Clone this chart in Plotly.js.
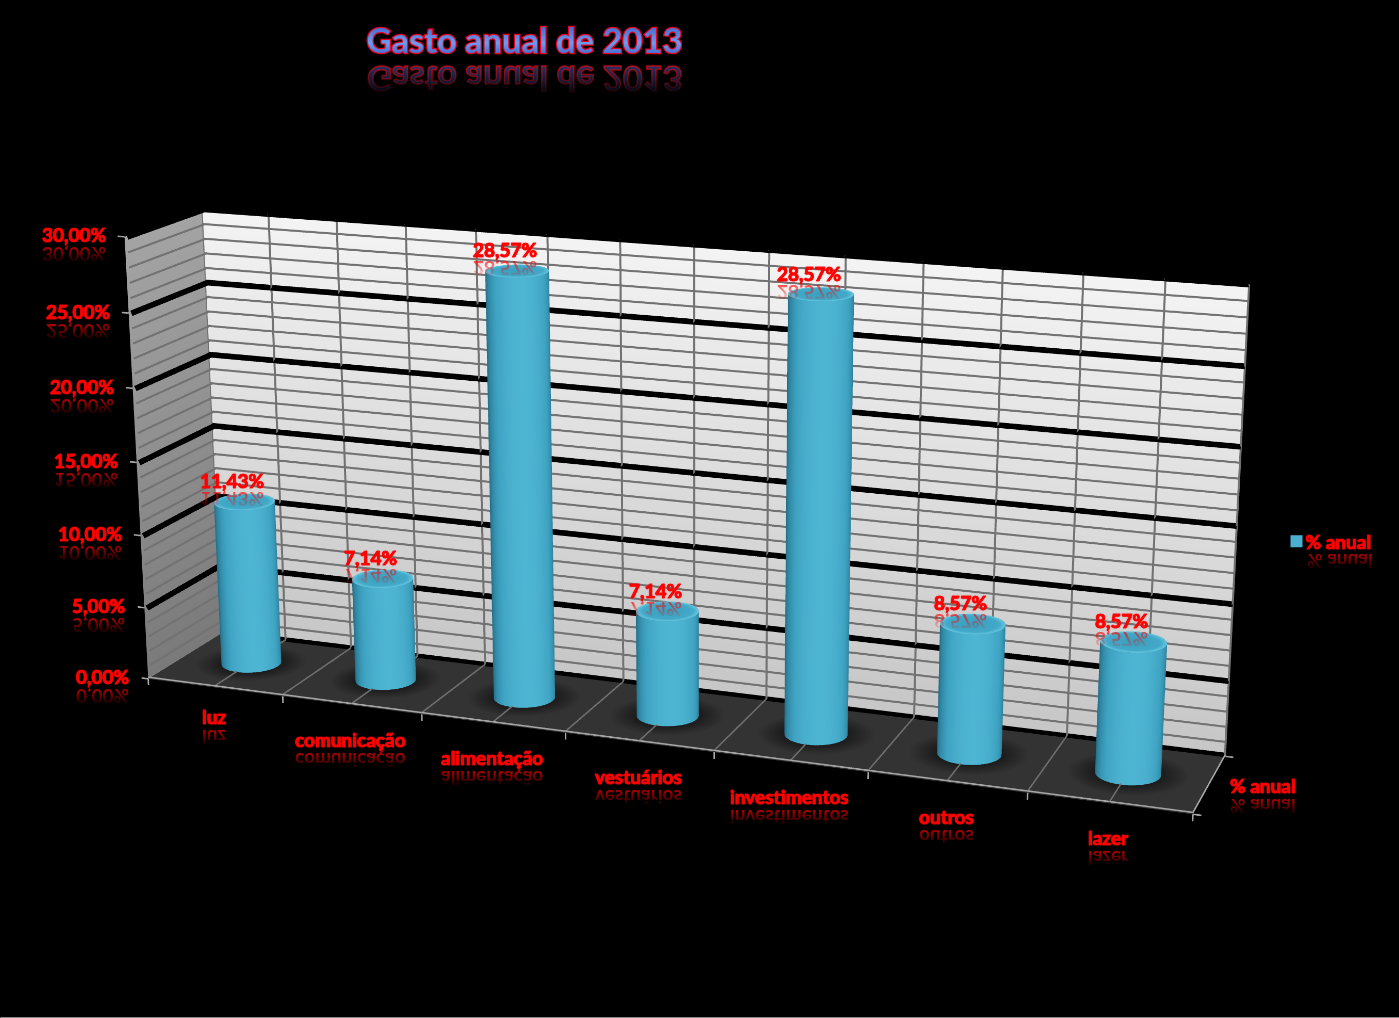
<!DOCTYPE html>
<html><head><meta charset="utf-8"><script src="https://cdn.plot.ly/plotly-3.0.1.min.js"></script>
<style id="st">html,body{margin:0;background:#000;overflow:hidden}#w{position:absolute;left:0;top:0;width:1399px;height:1018px;overflow:hidden}</style></head>
<body><div id="w"><div id="c"></div></div>
<svg style="position:absolute;width:0;height:0"><defs>
<linearGradient id="fade" x1="0" y1="0" x2="0" y2="1"><stop offset="0.1" stop-color="#f00" stop-opacity="0"/><stop offset="1" stop-color="#f00" stop-opacity=".85"/></linearGradient>
<linearGradient id="fadeb" x1="0" y1="0" x2="0" y2="1"><stop offset="0.1" stop-color="#3a58b8" stop-opacity="0"/><stop offset="1" stop-color="#3a58b8" stop-opacity=".7"/></linearGradient>
<linearGradient id="tf" x1="0" y1="0" x2="0" y2="1"><stop offset="0" stop-color="#3452c0"/><stop offset=".6" stop-color="#6c9cf0"/><stop offset="1" stop-color="#3452c0"/></linearGradient>
</defs></svg>
<script>
const categories=['luz','comunicação','alimentação','vestuários','investimentos','outros','lazer'];
const values=[11.43,7.14,28.57,7.14,28.57,8.57,8.57];
const zTicks=[0,5,10,15,20,25,30];
const zMinor=[1,2,3,4,6,7,8,9,11,12,13,14,16,17,18,19,21,22,23,24,26,27,28,29];
const seriesName='% anual';
const titleText='Gasto anual de 2013';
const W=1399,H=1018,ax=3;
const ay=0.53364,az=1.26856,k=2.49053;
const eye={x:2.44762,y:-6.49129,z:1.98395},center={x:-0.01454,y:0.26677,z:-0.11539};
const FW=Math.round(k*W),FH=Math.round(k*H),ox=(FW-W)/2,oy=(FH-H)/2;
const cdiv=document.getElementById('c');cdiv.style.cssText=`position:absolute;left:${-ox}px;top:${-oy}px;width:${FW}px;height:${FH}px`;
const fxp=x=>(x+ox)/FW,fyp=y=>1-(y+oy)/FH;
const rx=0.2, ry=rx/8*ax/ay*1.4;
const base={type:'surface',showscale:false,hoverinfo:'skip',lighting:{ambient:1,diffuse:0,specular:0,roughness:1,fresnel:0},contours:{x:{show:false},y:{show:false},z:{show:false}}};
const traces=[];
function wall(x,y,z,c,cs){traces.push({...base,x,y,z,surfacecolor:c,colorscale:cs,cmin:0,cmax:1})}
wall([[0,7],[0,7]],[[1,1],[1,1]],[[0,0],[30,30]],[[0,0],[1,1]],[[0,'#c6c6c6'],[1,'#f4f4f4']]);
wall([[0,0],[0,0]],[[0,1],[0,1]],[[0,0],[30,30]],[[0,0],[1,1]],[[0,'#7a7a7a'],[1,'#a4a4a4']]);
wall([[0,7],[0,7]],[[0,0],[1,1]],[[0,0],[0,0]],[[0,0],[0,0]],[[0,'#333333'],[1,'#333333']]);
const N=64,th=[];for(let i=0;i<=N;i++)th.push(i/N*2*Math.PI);
const sideCS=[[0,'#246a80'],[.3,'#2f86a3'],[.65,'#3fa3c2'],[1,'#4db4d2']];
values.forEach((v,i)=>{const cx=i+.5,cy=.5;
 const phi=Math.atan2(eye.y-0,eye.x-(cx-3.5)/8*ax)+.12;
 const R=[];for(let q=0;q<=12;q++)R.push(q/12);
 traces.push({...base,x:R.map(r=>th.map(t=>cx+rx*1.85*r*Math.cos(t))),y:R.map(r=>th.map(t=>cy+ry*1.85*r*Math.sin(t))),z:R.map(()=>th.map(()=>.06)),surfacecolor:R.map(r=>th.map(()=>r)),colorscale:[[0,'#161616'],[.55,'#1c1c1c'],[1,'#333333']],cmin:0,cmax:1});
 traces.push({...base,x:[0,v].map(()=>th.map(t=>cx+rx*Math.cos(t))),y:[0,v].map(()=>th.map(t=>cy+ry*Math.sin(t))),z:[0,v].map(h=>th.map(()=>h)),
  surfacecolor:[0,v].map(()=>th.map(t=>Math.max(0,Math.cos(t-phi)))),colorscale:sideCS,cmin:0,cmax:1});
 traces.push({...base,x:R.map(r=>th.map(t=>cx+rx*r*Math.cos(t))),y:R.map(r=>th.map(t=>cy+ry*r*Math.sin(t))),z:R.map(()=>th.map(()=>v)),surfacecolor:R.map(r=>th.map(()=>r)),colorscale:[[0,'#3a9fbe'],[.8,'#42a9c8'],[1,'#66c6e0']],cmin:0,cmax:1});
});
function seg(list,color,width){const x=[],y=[],z=[];list.forEach(s=>{x.push(s[0],s[3],null);y.push(s[1],s[4],null);z.push(s[2],s[5],null)});
 traces.push({type:'scatter3d',mode:'lines',x,y,z,line:{color,width},hoverinfo:'skip',showlegend:false})}
const eps=.012,ex=.02,gray=[],black=[],floor=[],edge=[];
zMinor.forEach(h=>{gray.push([0,1-eps,h,7,1-eps,h],[ex,0,h,ex,1,h])});
zTicks.forEach(h=>{if(h)black.push([0,1-eps,h,7,1-eps,h],[ex,0,h,ex,1,h])});
for(let q=0;q<=14;q++)gray.push([q/2,1-eps,0,q/2,1-eps,30]);
for(let q=1;q<14;q++)floor.push([q/2,0,.12,q/2,1,.12]);
black.push([0,1-eps,.1,7,1-eps,.1]);
edge.push([0,0,.12,7,0,.12],[7,0,.12,7,1,.12]);
zTicks.forEach(h=>edge.push([-.05,0,h,0,0,h]));
for(let q=0;q<=7;q++)edge.push([q,0,-.45,q,0,0]);
edge.push([7,0,0,7.05,0,0],[7,1,0,7.05,1,0]);
seg(gray,'#727272',4);seg(black,'#000000',11);seg(floor,'#6e6e6e',3);seg(edge,'#a6a6a6',3);
traces.push({type:'scatter3d',mode:'markers',name:seriesName,x:[.5],y:[.5],z:[1],marker:{size:12,symbol:'square',color:'#4bb0cf'},hoverinfo:'skip',showlegend:true});
const fmt=v=>v.toFixed(2).replace('.',',')+'%';
const lab={family:'Lato, "Open Sans", sans-serif',size:19,color:'#ff0000',weight:700,shadow:'0 0 1px #ff0000'};
const ann=[];
function label(text,x,y,z,dx,dy,rdy,xa){ann.push({x,y,z,text,showarrow:false,font:lab,xshift:dx,yshift:dy,xanchor:xa||'center'});
 ann.push({x,y,z,text,showarrow:false,font:lab,xshift:dx,yshift:dy-rdy,xanchor:xa||'center'})}
zTicks.forEach(h=>label(fmt(h),0,0,h,-17,2,20,'right'));
categories.forEach((c,i)=>label(c,i+.5,0,0,-1,i?-34:-29,21));
values.forEach((v,i)=>label(fmt(v),i+.5,.5,v,-12,21,19));
label(seriesName,7,.5,0,54,-1,21);
let css='';const mir='transform-box:fill-box;transform-origin:center;transform:scaleY(-1);text-shadow:none!important;stroke:none;';
css+=`.annotation-scene text,.legendtext{stroke:#f00;stroke-width:.6px}`;
ann.forEach((a,i)=>{if(i%2)css+=`.annotation-scene[data-index="${i}"] text{${mir}fill:url(#fade)!important}`});
css+=`.annotation[data-index="0"] text{${mir}fill:url(#fadeb)!important;stroke:url(#fade);stroke-width:1.5px}`;
css+=`.annotation[data-index="1"] text{${mir}fill:url(#fade)!important}`;
css+=`.gtitle{fill:url(#tf)!important;stroke:#e8001c;stroke-width:2.5px;paint-order:stroke;text-shadow:none!important}`;
css+=`.legend .legendpoints path{transform:translate(31px,0)}`;
document.getElementById('st').textContent+=css;
const tf={family:'Lato, sans-serif',size:34.5,color:'#4a6fdc',weight:700};
const layout={width:FW,height:FH,margin:{l:0,r:0,t:0,b:0},paper_bgcolor:'#000',plot_bgcolor:'#000',showlegend:true,hovermode:false,
 title:{text:titleText,x:fxp(524),xanchor:'center',y:fyp(40),yanchor:'middle',font:tf},
 legend:{x:fxp(1265),y:fyp(541),xanchor:'left',yanchor:'middle',bgcolor:'rgba(0,0,0,0)',font:{...lab},itemwidth:30},
 shapes:[{type:'rect',xref:'paper',yref:'paper',x0:fxp(0),x1:fxp(W),y0:fyp(1018),y1:fyp(1016.5),fillcolor:'#8a8a8a',line:{width:0}}],
 annotations:[{xref:'paper',yref:'paper',x:fxp(524),y:fyp(79),xanchor:'center',yanchor:'middle',text:titleText,showarrow:false,font:tf},
  {xref:'paper',yref:'paper',x:fxp(1339),y:fyp(561),xanchor:'center',yanchor:'middle',text:seriesName,showarrow:false,font:lab}],
 scene:{domain:{x:[0,1],y:[0,1]},aspectmode:'manual',aspectratio:{x:ax,y:ay,z:az},camera:{eye,center,up:{x:0,y:0,z:1},projection:{type:'perspective'}},
  xaxis:{visible:false,range:[-.5,7.5]},yaxis:{visible:false,range:[-.2,1.2]},zaxis:{visible:false,range:[-2,32]},annotations:ann,bgcolor:'#000'}};
Plotly.newPlot('c',traces,layout,{displayModeBar:false});
</script></body></html>
